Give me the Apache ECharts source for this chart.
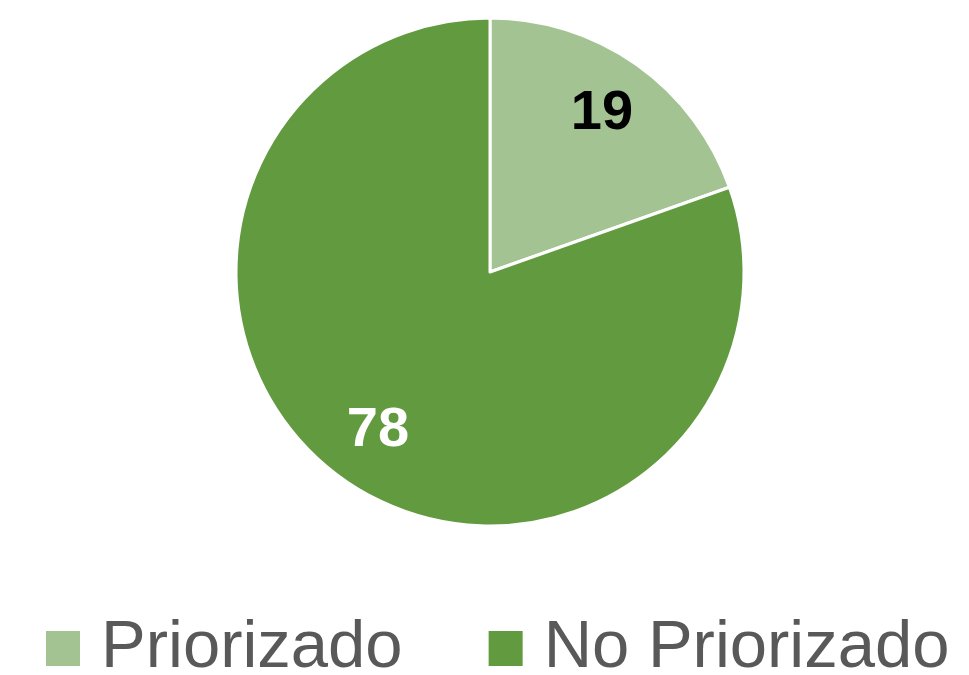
<!DOCTYPE html>
<html>
<head>
<meta charset="utf-8">
<script src="https://cdn.jsdelivr.net/npm/echarts@6/dist/echarts.min.js"></script>
<style>
  html, body { margin: 0; padding: 0; background: #fff; }
  #chart { width: 969px; height: 675px; }
</style>
</head>
<body>
<div id="chart"></div>
<script>
const categories = ['Priorizado', 'No Priorizado'];
const values = [19, 78];
const colors = ['#A3C492', '#629A3F'];
const labelColors = ['#000000', '#FFFFFF'];

const pieData = categories.map((name, i) => ({
  name,
  value: values[i],
  itemStyle: {color: colors[i]}
}));

// copy of the data, transparent, used only to place the labels further out
const labelData = categories.map((name, i) => ({
  name,
  value: values[i],
  itemStyle: {color: 'rgba(0,0,0,0)'},
  label: {color: labelColors[i]}
}));

const chart = echarts.init(document.getElementById('chart'));

chart.setOption({
  animation: false,
  legend: {
    data: categories,
    left: 44,
    top: 615,
    width: 925,
    padding: 0,
    itemWidth: 36,
    itemHeight: 37,
    itemGap: 84,
    icon: 'rect',
    textStyle: {
      fontFamily: 'Liberation Sans',
      fontSize: 67,
      color: '#595959',
      padding: [0, 0, 0, 15]
    }
  },
  series: [
    {
      type: 'pie',
      center: [490, 272],
      radius: [0, 254],
      startAngle: 90,
      clockwise: true,
      silent: true,
      label: {show: false},
      labelLine: {show: false},
      itemStyle: {borderColor: '#ffffff', borderWidth: 3},
      data: pieData
    },
    {
      type: 'pie',
      center: [490, 272],
      radius: [128, 254],
      startAngle: 90,
      clockwise: true,
      silent: true,
      legendHoverLink: false,
      label: {
        show: true,
        position: 'inside',
        formatter: '{c}',
        fontFamily: 'Liberation Sans',
        fontWeight: 'bold',
        fontSize: 56
      },
      labelLine: {show: false},
      data: labelData
    }
  ]
});
</script>
</body>
</html>
